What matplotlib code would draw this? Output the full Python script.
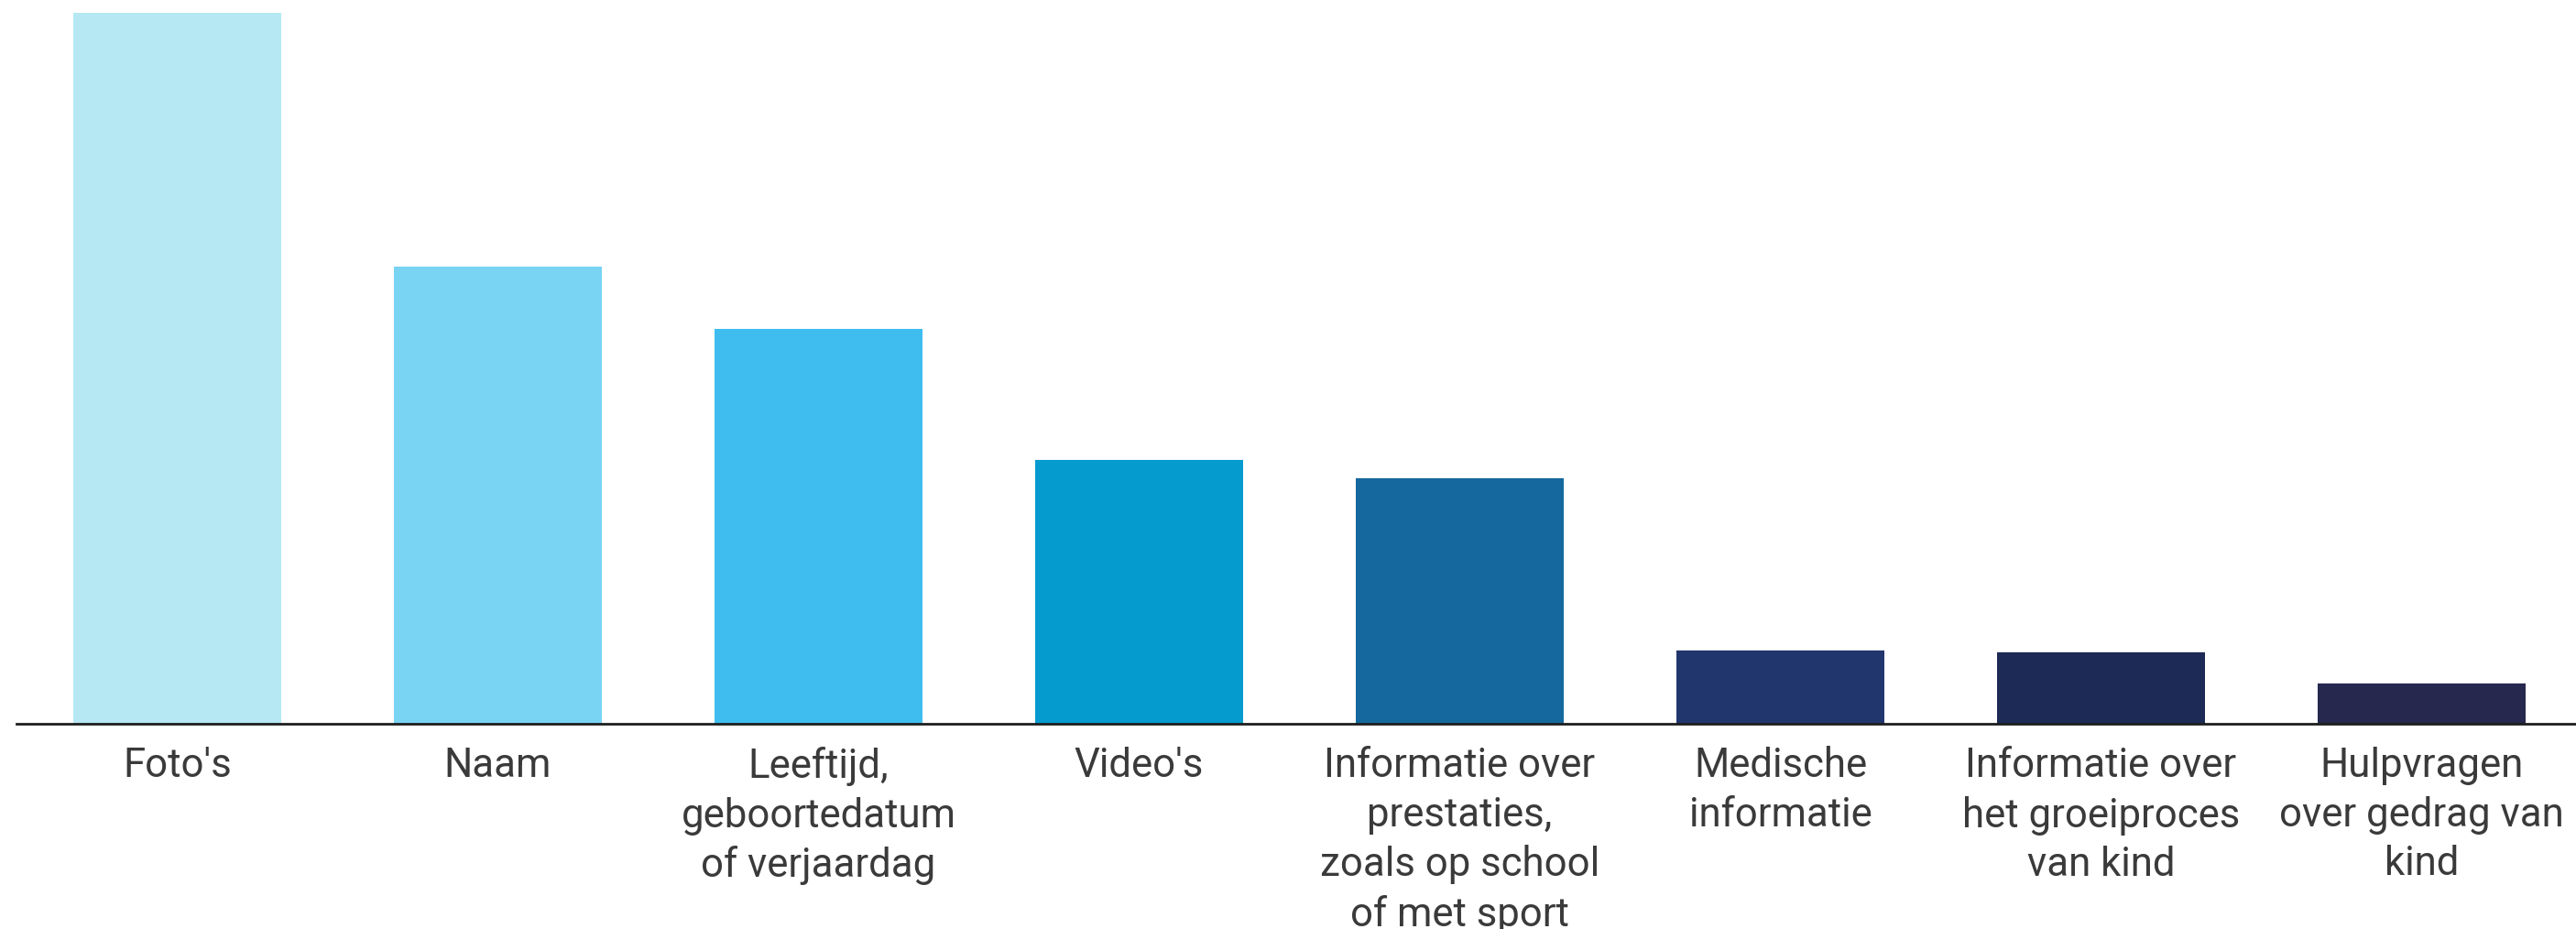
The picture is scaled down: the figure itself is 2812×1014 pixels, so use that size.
import matplotlib
matplotlib.use("Agg")
import matplotlib.pyplot as plt

categories = ["Foto's", "Naam", "Leeftijd,\ngeboortedatum\nof verjaardag", "Video's",
              "Informatie over\nprestaties,\nzoals op school\nof met sport",
              "Medische\ninformatie", "Informatie over\nhet groeiproces\nvan kind",
              "Hulpvragen\nover gedrag van\nkind"]
values = [77.6, 49.9, 43.1, 28.8, 26.8, 8.0, 7.8, 4.4]
colors = ["#B5E8F3", "#79D4F4", "#3EBDEE", "#059BCF", "#14689D", "#22366E", "#1C2A55", "#26284E"]

W, H, DPI = 2812, 1014, 100
fig = plt.figure(figsize=(W / DPI, H / DPI), dpi=DPI)
fig.patch.set_facecolor("white")
axis_y = 790
ax = fig.add_axes([18 / W, (H - axis_y) / H, 1 - 18 / W, axis_y / H])

x = list(range(len(categories)))
ax.bar(x, values, width=0.65, color=colors, zorder=2)
ax.set_xlim((18 - 193.5) / 350, (2812 - 193.5) / 350)
ax.set_ylim(0, 77.6 * 790 / 776)

for s in ["top", "left", "right"]:
    ax.spines[s].set_visible(False)
ax.spines["bottom"].set_color("#1e1e1e")
ax.spines["bottom"].set_linewidth(2.0)
ax.spines["bottom"].set_zorder(3)
ax.set_yticks([])
ax.set_xticks(x)
ax.set_xticklabels(categories, fontfamily="Roboto", fontsize=31.5, color="#3a3a3a",
                   linespacing=1.35)
ax.tick_params(axis="x", length=0, pad=18)

fig.savefig("out.png", dpi=DPI, facecolor="white")
